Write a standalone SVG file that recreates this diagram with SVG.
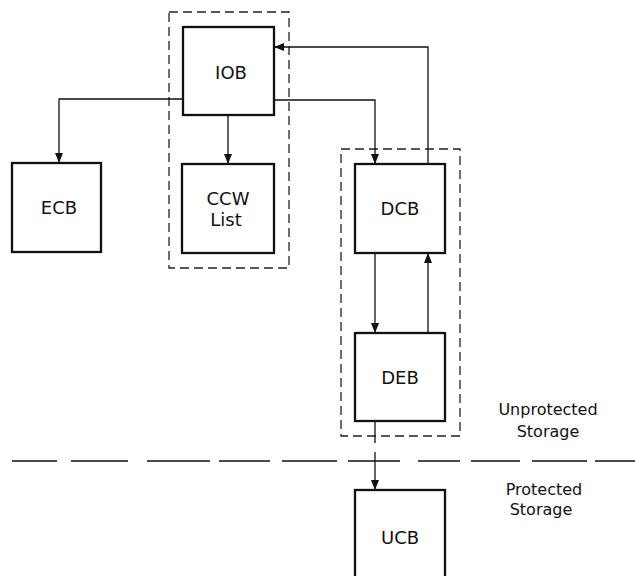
<svg xmlns="http://www.w3.org/2000/svg" width="635" height="576" viewBox="0 0 635 576">
<style>
.box{fill:#fff;stroke:#111;stroke-width:2.3}
.grp{fill:none;stroke:#222;stroke-width:1.3;stroke-dasharray:9 5}
.con{fill:none;stroke:#111;stroke-width:1.3}
.lbl{font-family:"DejaVu Sans","Liberation Sans",sans-serif;font-size:18px;fill:#111;text-anchor:middle}
.note{font-family:"DejaVu Sans","Liberation Sans",sans-serif;font-size:16px;fill:#111;text-anchor:middle}
</style>
<defs>
<marker id="arr" viewBox="0 0 10 8" refX="10" refY="4" markerWidth="10" markerHeight="8" markerUnits="userSpaceOnUse" orient="auto">
<path d="M0,0 L10,4 L0,8 Z" fill="#111"/>
</marker>
</defs>
<rect width="635" height="576" fill="#fff"/>
<g id="group-iob"><rect class="grp" x="169" y="12" width="120" height="256"/></g>
<g id="group-dcb"><rect class="grp" x="341" y="149" width="119" height="287"/></g>
<g id="boundary"><path d="M12,461H57M71,461H128M147,461H210M219,461H270M282,461H337M348,461H400M418,461H460M471,461H520M532,461H587M595,461H635" fill="none" stroke="#111" stroke-width="1.6"/></g>
<g id="connectors">
<path class="con" d="M183,99H59V163" marker-end="url(#arr)"/>
<path class="con" d="M228,115V164" marker-end="url(#arr)"/>
<path class="con" d="M274,100H375V164" marker-end="url(#arr)"/>
<path class="con" d="M428,164V47H274" marker-end="url(#arr)"/>
<path class="con" d="M375,253V333" marker-end="url(#arr)"/>
<path class="con" d="M428,333V253" marker-end="url(#arr)"/>
<path class="con" d="M375,421V443"/>
<path class="con" d="M375,452V490" marker-end="url(#arr)"/>
</g>
<g id="IOB"><rect class="box" x="183" y="27" width="91" height="88"/><text class="lbl" x="231" y="79">IOB</text></g>
<g id="ECB"><rect class="box" x="12" y="163" width="89" height="89"/><text class="lbl" x="59" y="214">ECB</text></g>
<g id="CCW"><rect class="box" x="182" y="164" width="92" height="89"/><text class="lbl" x="228" y="205">CCW</text><text class="lbl" x="226" y="226">List</text></g>
<g id="DCB"><rect class="box" x="355" y="164" width="90" height="89"/><text class="lbl" x="400" y="215">DCB</text></g>
<g id="DEB"><rect class="box" x="355" y="333" width="90" height="88"/><text class="lbl" x="400" y="384">DEB</text></g>
<g id="UCB"><rect class="box" x="355" y="490" width="90" height="100"/><text class="lbl" x="400" y="544">UCB</text></g>
<g id="labels">
<text class="note" x="548" y="415">Unprotected</text>
<text class="note" x="548" y="437">Storage</text>
<text class="note" x="544" y="495">Protected</text>
<text class="note" x="541" y="515">Storage</text>
</g>
</svg>
